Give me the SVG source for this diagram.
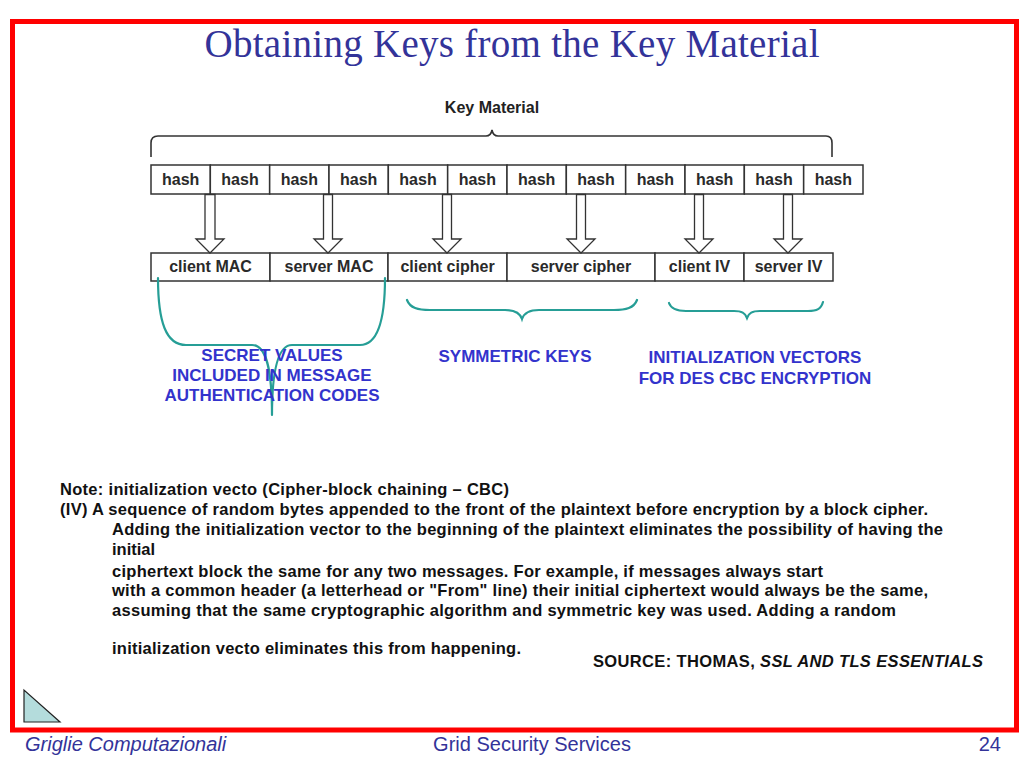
<svg xmlns="http://www.w3.org/2000/svg" width="1024" height="768" viewBox="0 0 1024 768">
<defs>
<style>
.cell{fill:#fff;stroke:#333;stroke-width:1.5}
.ht{font-family:"Liberation Sans",Arial,sans-serif;font-weight:bold;font-size:16px;fill:#2a2a2a;text-anchor:middle}
.arr{fill:#fff;stroke:#333;stroke-width:1.3;stroke-linejoin:miter}
.brace{fill:none;stroke:#269e96;stroke-width:2.2;stroke-linecap:round}
.blue{font-family:"Liberation Sans",Arial,sans-serif;font-weight:bold;font-size:17px;fill:#3333cc;text-anchor:middle}
.note{font-family:"Liberation Sans",Arial,sans-serif;font-weight:bold;font-size:16.5px;fill:#111}
.foot{font-family:"Liberation Sans",Arial,sans-serif;font-size:20px;fill:#333399}
</style>
</defs>
<rect width="1024" height="768" fill="#fff"/>
<rect x="12.5" y="21.5" width="1004" height="708.5" fill="none" stroke="#ff0000" stroke-width="5"/>
<text x="512" y="57" text-anchor="middle" font-family="'Liberation Serif','Times New Roman',serif" font-size="39" fill="#333399" textLength="615">Obtaining Keys from the Key Material</text>

<g id="key-material">
<text x="492" y="113" text-anchor="middle" font-family="'Liberation Sans',Arial,sans-serif" font-weight="bold" font-size="16" fill="#222">Key Material</text>
<path d="M151,157 L151,143 Q151,136 158,136 L486,136 Q491,136 492,130 Q493,136 498,136 L826,136 Q832,136 832,143 L832,157" fill="none" stroke="#333" stroke-width="1.6"/>
</g>

<g id="hash-row">
<g id="hash1"><rect class="cell" x="151" y="165" width="59.33" height="29"/><text class="ht" x="180.7" y="185">hash</text></g>
<g id="hash2"><rect class="cell" x="210.33" y="165" width="59.33" height="29"/><text class="ht" x="240" y="185">hash</text></g>
<g id="hash3"><rect class="cell" x="269.67" y="165" width="59.33" height="29"/><text class="ht" x="299.3" y="185">hash</text></g>
<g id="hash4"><rect class="cell" x="329" y="165" width="59.33" height="29"/><text class="ht" x="358.7" y="185">hash</text></g>
<g id="hash5"><rect class="cell" x="388.33" y="165" width="59.33" height="29"/><text class="ht" x="418" y="185">hash</text></g>
<g id="hash6"><rect class="cell" x="447.67" y="165" width="59.33" height="29"/><text class="ht" x="477.3" y="185">hash</text></g>
<g id="hash7"><rect class="cell" x="507" y="165" width="59.33" height="29"/><text class="ht" x="536.7" y="185">hash</text></g>
<g id="hash8"><rect class="cell" x="566.33" y="165" width="59.33" height="29"/><text class="ht" x="596" y="185">hash</text></g>
<g id="hash9"><rect class="cell" x="625.67" y="165" width="59.33" height="29"/><text class="ht" x="655.3" y="185">hash</text></g>
<g id="hash10"><rect class="cell" x="685" y="165" width="59.33" height="29"/><text class="ht" x="714.7" y="185">hash</text></g>
<g id="hash11"><rect class="cell" x="744.33" y="165" width="59.33" height="29"/><text class="ht" x="774" y="185">hash</text></g>
<g id="hash12"><rect class="cell" x="803.67" y="165" width="59.33" height="29"/><text class="ht" x="833.3" y="185">hash</text></g>
</g>

<g id="key-row">
<g id="client-mac"><rect class="cell" x="151" y="253" width="119" height="28"/><text class="ht" x="210.5" y="272">client MAC</text></g>
<g id="server-mac"><rect class="cell" x="270" y="253" width="118" height="28"/><text class="ht" x="329" y="272">server MAC</text></g>
<g id="client-cipher"><rect class="cell" x="388" y="253" width="119" height="28"/><text class="ht" x="447.5" y="272">client cipher</text></g>
<g id="server-cipher"><rect class="cell" x="507" y="253" width="148" height="28"/><text class="ht" x="581" y="272">server cipher</text></g>
<g id="client-iv"><rect class="cell" x="655" y="253" width="89" height="28"/><text class="ht" x="699.5" y="272">client IV</text></g>
<g id="server-iv"><rect class="cell" x="744" y="253" width="89" height="28"/><text class="ht" x="788.5" y="272">server IV</text></g>
</g>

<g id="connectors">
<polygon class="arr" points="205,194.5 205,239 196,239 210,253 224,239 215,239 215,194.5"/>
<polygon class="arr" points="323.5,194.5 323.5,239 314,239 328,253 342,239 332.5,239 332.5,194.5"/>
<polygon class="arr" points="442.5,194.5 442.5,239 433,239 447,253 461,239 451.5,239 451.5,194.5"/>
<polygon class="arr" points="576.5,194.5 576.5,239 567,239 581,253 595,239 585.5,239 585.5,194.5"/>
<polygon class="arr" points="694.5,194.5 694.5,239 685,239 699,253 713,239 703.5,239 703.5,194.5"/>
<polygon class="arr" points="783.5,194.5 783.5,239 774,239 788,253 802,239 792.5,239 792.5,194.5"/>
<path class="brace" d="M158,278 C158,322 166,345 186,345 L252,345 C266,345 272,368 272,415 M385,278 C385,322 377,345 360,345 L292,345 C279,345 272,368 272,415"/>
<path class="brace" d="M407,300 C410,308 418,310 430,310 L505,310 C515,310 520,313 522,319 C524,313 529,310 539,310 L614,310 C626,310 634,308 637,300"/>
<path class="brace" d="M669,303 C671,309 677,311 686,311 L734,311 C742,311 745,313 747,318 C749,313 752,311 760,311 L808,311 C817,311 821,309 823,302"/>
</g>

<g id="mac-label">
<text class="blue" x="272" y="361">SECRET VALUES</text>
<text class="blue" x="272" y="381">INCLUDED IN MESSAGE</text>
<text class="blue" x="272" y="401">AUTHENTICATION CODES</text>
</g>
<g id="sym-label"><text class="blue" x="515" y="362">SYMMETRIC KEYS</text></g>
<g id="iv-label">
<text class="blue" x="755" y="363">INITIALIZATION VECTORS</text>
<text class="blue" x="755" y="384">FOR DES CBC ENCRYPTION</text>
</g>

<g id="note">
<text class="note" x="60" y="495" textLength="449">Note: initialization vecto (Cipher-block chaining – CBC)</text>
<text class="note" x="60" y="515" textLength="868">(IV) A sequence of random bytes appended to the front of the plaintext before encryption by a block cipher.</text>
<text class="note" x="112" y="535" textLength="831">Adding the initialization vector to the beginning of the plaintext eliminates the possibility of having the</text>
<text class="note" x="112" y="555">initial</text>
<text class="note" x="112" y="577" textLength="711">ciphertext block the same for any two messages. For example, if messages always start</text>
<text class="note" x="112" y="596" textLength="816">with a common header (a letterhead or "From" line) their initial ciphertext would always be the same,</text>
<text class="note" x="112" y="616" textLength="784">assuming that the same cryptographic algorithm and symmetric key was used. Adding a random</text>
<text class="note" x="112" y="654" textLength="409">initialization vecto eliminates this from happening.</text>
</g>
<g id="source">
<text class="note" x="593" y="667" textLength="390">SOURCE: THOMAS, <tspan font-style="italic">SSL AND TLS ESSENTIALS</tspan></text>
</g>

<polygon points="24,690 24,722 60,722" fill="#b4dcdc" stroke="#222" stroke-width="1.2"/>

<text class="foot" x="25" y="751" font-style="italic">Griglie Computazionali</text>
<text class="foot" x="532" y="751" text-anchor="middle">Grid Security Services</text>
<text class="foot" x="1001" y="751" text-anchor="end">24</text>
</svg>
